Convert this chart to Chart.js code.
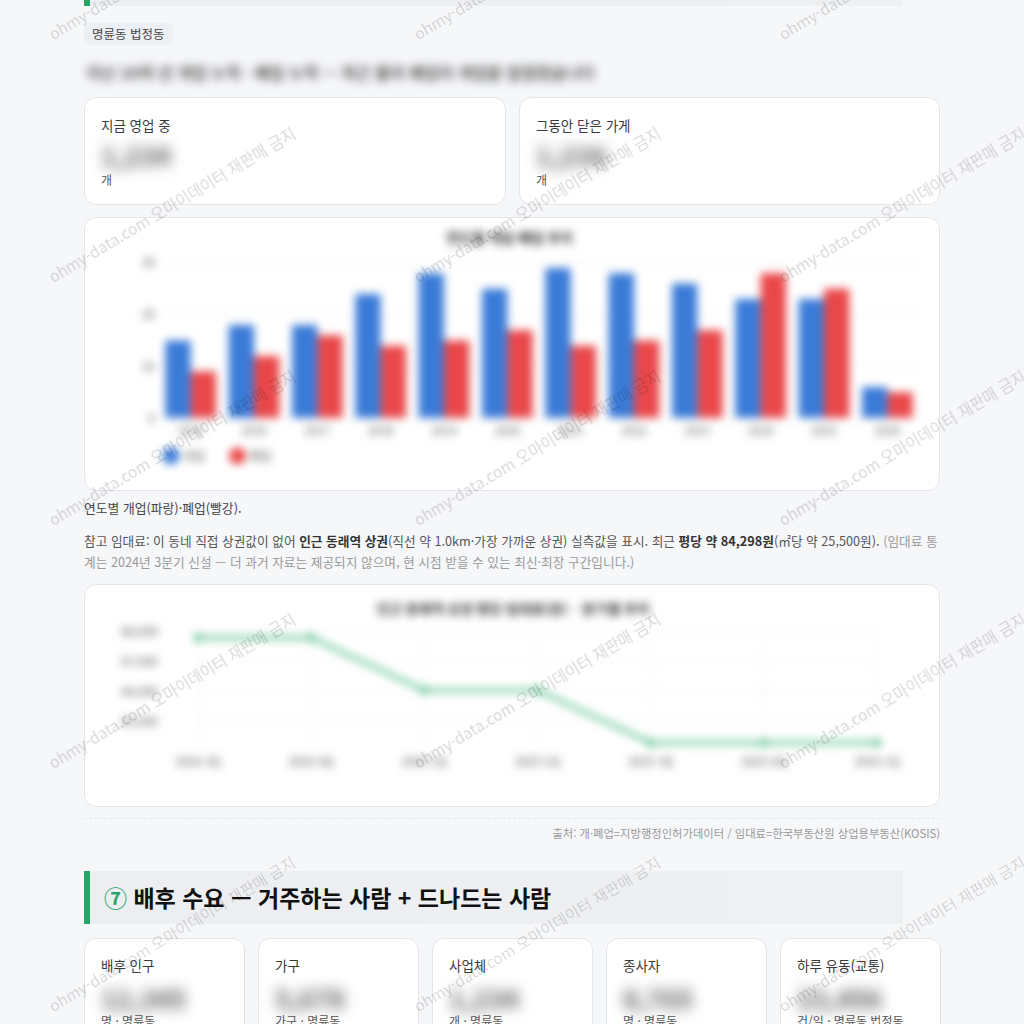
<!DOCTYPE html>
<html lang="ko">
<head>
<meta charset="utf-8">
<script src="https://cdn.jsdelivr.net/npm/chart.js@4.4.1/dist/chart.umd.min.js"></script>
<style>
  html, body { margin:0; padding:0; }
  body { width:1024px; height:1024px; overflow:hidden; background:#f6f7f9; position:relative;
         font-family:"Noto Sans CJK KR","Noto Sans",sans-serif; color:#333; }
  .abs { position:absolute; }
  .band { background:linear-gradient(90deg,#eceef1 0%,#eef0f2 100%); border-left:6px solid #27a567; box-sizing:border-box; }
  .badge { background:#eceff3; border-radius:6px; font-size:12.5px; color:#444; padding:0 8px; height:22px; line-height:22px; }
  .card { background:#fff; border:1px solid #e2e5ea; border-radius:12px; box-sizing:border-box; }
  .lbl { font-size:13.5px; color:#3a3a3a; }
  .num { font-size:26px; font-weight:700; color:#555; filter:blur(7px); }
  .unit { font-size:12px; color:#555; }
  .blurline { font-size:16px; font-weight:700; color:#555; filter:blur(5px); white-space:nowrap; }
  .para { font-size:12.7px; color:#555; line-height:21px; }
  .para b { color:#333; font-weight:700; }
  .para .muted { color:#9a9a9a; }
  .chartbox { position:absolute; }
  .chartbox canvas { filter:blur(4px); }
  .wm { position:absolute; font-size:15.5px; color:rgba(0,0,0,0.16); white-space:nowrap; transform-origin:0 0; transform:rotate(-31deg); pointer-events:none; font-family:"Noto Sans CJK KR","Noto Sans",sans-serif; }
</style>
</head>
<body>
<!-- previous section header (clipped) -->
<div class="abs band" style="left:84px; top:-50px; width:818px; height:56px;"></div>

<div class="abs badge" style="left:84px; top:23px;">명륜동 법정동</div>
<div class="abs blurline" style="left:86px; top:60px;">지난 10여 년 개업 누적 · 폐업 누적 — 최근 들어 폐업이 개업을 앞질렀습니다</div>

<div class="abs card" style="left:84px; top:97px; width:422px; height:108px;">
  <div class="abs lbl" style="left:16px; top:17px;">지금 영업 중</div>
  <div class="abs num" style="left:16px; top:38px;">1,234</div>
  <div class="abs unit" style="left:16px; top:73px;">개</div>
</div>
<div class="abs card" style="left:519px; top:97px; width:421px; height:108px;">
  <div class="abs lbl" style="left:16px; top:17px;">그동안 닫은 가게</div>
  <div class="abs num" style="left:16px; top:38px;">1,234</div>
  <div class="abs unit" style="left:16px; top:73px;">개</div>
</div>

<div class="abs card" style="left:84px; top:217px; width:856px; height:274px;"></div>
<div class="chartbox" style="left:100px; top:225px; width:824px; height:247px;"><canvas id="barChart"></canvas></div>

<div class="abs para" style="left:84px; top:497px; color:#444; font-size:12.8px;">연도별 개업(파랑)·폐업(빨강).</div>
<div class="abs para" style="left:84px; top:530px; width:860px;">참고 임대료: 이 동네 직접 상권값이 없어 <b>인근 동래역 상권</b>(직선 약 1.0km·가장 가까운 상권) 실측값을 표시. 최근 <b>평당 약 84,298원</b>(㎡당 약 25,500원). <span class="muted">(임대료 통계는 2024년 3분기 신설 — 더 과거 자료는 제공되지 않으며, 현 시점 받을 수 있는 최신·최장 구간입니다.)</span></div>

<div class="abs card" style="left:84px; top:584px; width:856px; height:223px;"></div>
<div class="chartbox" style="left:100px; top:580px; width:824px; height:216px;"><canvas id="lineChart"></canvas></div>

<div class="abs" style="left:84px; top:818px; width:856px; border-top:1px dashed #e3e5e9;"></div>
<div class="abs" style="right:84px; top:825px; font-size:11.3px; color:#999;">출처: 개·폐업=지방행정인허가데이터 / 임대료=한국부동산원 상업용부동산(KOSIS)</div>

<div class="abs band" style="left:84px; top:871px; width:819px; height:53px;"></div>
<div class="abs" style="left:104px; top:880px; font-size:23px; font-weight:700; color:#111; white-space:nowrap;"><span style="color:#27a567;">⑦</span> 배후 수요 — 거주하는 사람 + 드나드는 사람</div>

<div class="abs card" style="left:84px; top:938px; width:161px; height:120px;">
  <div class="abs lbl" style="left:16px; top:16px;">배후 인구</div>
  <div class="abs num" style="left:16px; top:40px;">12,345</div>
  <div class="abs unit" style="left:16px; top:73px;">명 · 명륜동</div>
</div>
<div class="abs card" style="left:258px; top:938px; width:161px; height:120px;">
  <div class="abs lbl" style="left:16px; top:16px;">가구</div>
  <div class="abs num" style="left:16px; top:40px;">5,678</div>
  <div class="abs unit" style="left:16px; top:73px;">가구 · 명륜동</div>
</div>
<div class="abs card" style="left:432px; top:938px; width:161px; height:120px;">
  <div class="abs lbl" style="left:16px; top:16px;">사업체</div>
  <div class="abs num" style="left:16px; top:40px;">1,234</div>
  <div class="abs unit" style="left:16px; top:73px;">개 · 명륜동</div>
</div>
<div class="abs card" style="left:606px; top:938px; width:161px; height:120px;">
  <div class="abs lbl" style="left:16px; top:16px;">종사자</div>
  <div class="abs num" style="left:16px; top:40px;">8,765</div>
  <div class="abs unit" style="left:16px; top:73px;">명 · 명륜동</div>
</div>
<div class="abs card" style="left:780px; top:938px; width:161px; height:120px;">
  <div class="abs lbl" style="left:16px; top:16px;">하루 유동(교통)</div>
  <div class="abs num" style="left:16px; top:40px;">23,456</div>
  <div class="abs unit" style="left:16px; top:73px;">건/일 · 명륜동 법정동</div>
</div>

<div id="wmLayer"></div>

<script>
// ---- data ----
const years = ['2015','2016','2017','2018','2019','2020','2021','2022','2023','2024','2025','2026'];
const openCounts  = [15, 18, 18, 24, 28, 25, 29, 28, 26, 23, 23, 6];
const closeCounts = [9, 12, 16, 14, 15, 17, 14, 15, 17, 28, 25, 5];
const seriesNames = ['개업', '폐업'];
const barTitle = '연도별 개업·폐업 추이';

const quarters = ['2024 3Q','2024 4Q','2025 1Q','2025 2Q','2025 3Q','2025 4Q','2026 1Q'];
const rentPerPyeong = [87800, 87800, 86050, 86050, 84298, 84298, 84298];
const rentTicks = [85000, 86000, 87000, 88000];
const lineTitle = '인근 동래역 상권 평당 임대료(원) · 분기별 추이';

// ---- watermark ----
const wmText = 'ohmy-data.com 오마이데이터 재판매 금지';
const wmCols = [50, 415, 780];
const wmRows = [35, 278, 521, 764, 1007];
const layer = document.getElementById('wmLayer');
wmRows.forEach(r => wmCols.forEach(c => {
  const s = document.createElement('div');
  s.className = 'wm';
  s.textContent = wmText;
  s.style.left = (c - 6) + 'px';
  s.style.top = (r - 10) + 'px';
  layer.appendChild(s);
}));

// ---- charts ----
Chart.defaults.font.family = '"Noto Sans CJK KR","Noto Sans",sans-serif';
Chart.defaults.color = '#555';
Chart.defaults.animation = false;

new Chart(document.getElementById('barChart'), {
  type: 'bar',
  data: {
    labels: years,
    datasets: [
      { label: seriesNames[0], data: openCounts, backgroundColor: '#3a7bd8' },
      { label: seriesNames[1], data: closeCounts, backgroundColor: '#e94749' }
    ]
  },
  options: {
    responsive: true, maintainAspectRatio: false,
    layout: { padding: { right: 5 } },
    datasets: { bar: { categoryPercentage: 0.8, barPercentage: 1.0 } },
    plugins: {
      title: { display: true, text: barTitle, color: '#333', font: { size: 14, weight: 'bold' }, padding: { top: 4, bottom: 17 } },
      legend: { position: 'bottom', align: 'start', fullSize: false,
        labels: { usePointStyle: true, pointStyle: 'circle', padding: 6, font: { size: 12 }, color: '#555',
          generateLabels: (chart) => Chart.defaults.plugins.legend.labels.generateLabels(chart)
            .map(l => Object.assign(l, { text: l.text + '\u2002\u2002\u2002\u2009' })) } },
      tooltip: { enabled: false }
    },
    scales: {
      x: { grid: { display: false, drawTicks: false }, border: { display: false }, ticks: { font: { size: 11.5 }, padding: 6 } },
      y: { beginAtZero: true, grid: { color: '#eceef1', drawTicks: false }, border: { display: false },
           ticks: { stepSize: 10, font: { size: 12 }, padding: 4 },
           afterFit: (s) => { s.width = 59; } }
    }
  }
});

new Chart(document.getElementById('lineChart'), {
  type: 'line',
  data: {
    labels: quarters,
    datasets: [
      { label: '평당 임대료', data: rentPerPyeong, borderColor: '#7dcda4', backgroundColor: '#7dcda4',
        borderWidth: 4.5, pointRadius: 2.5, tension: 0 }
    ]
  },
  options: {
    responsive: true, maintainAspectRatio: false,
    layout: { padding: { right: 47 } },
    plugins: {
      title: { display: true, text: '\u2002\u2002\u2002\u2002\u2002\u2002\u2002' + lineTitle, color: '#333',
               font: { size: 14, weight: 'bold' }, padding: { top: 16.6, bottom: 10 } },
      legend: { display: false },
      tooltip: { enabled: false }
    },
    scales: {
      x: { grid: { color: '#f0f1f3', drawTicks: false }, border: { display: false },
           ticks: { font: { size: 12 }, padding: 5 } },
      y: { min: 84100, max: 88150, grid: { color: '#f0f1f3', drawTicks: false }, border: { display: false },
           ticks: { font: { size: 12 }, padding: 40, callback: (v) => v.toLocaleString('en-US') },
           afterBuildTicks: (axis) => { axis.ticks = rentTicks.map(v => ({ value: v })); },
           afterFit: (s) => { s.width = 98; } }
    }
  }
});
</script>
</body>
</html>
